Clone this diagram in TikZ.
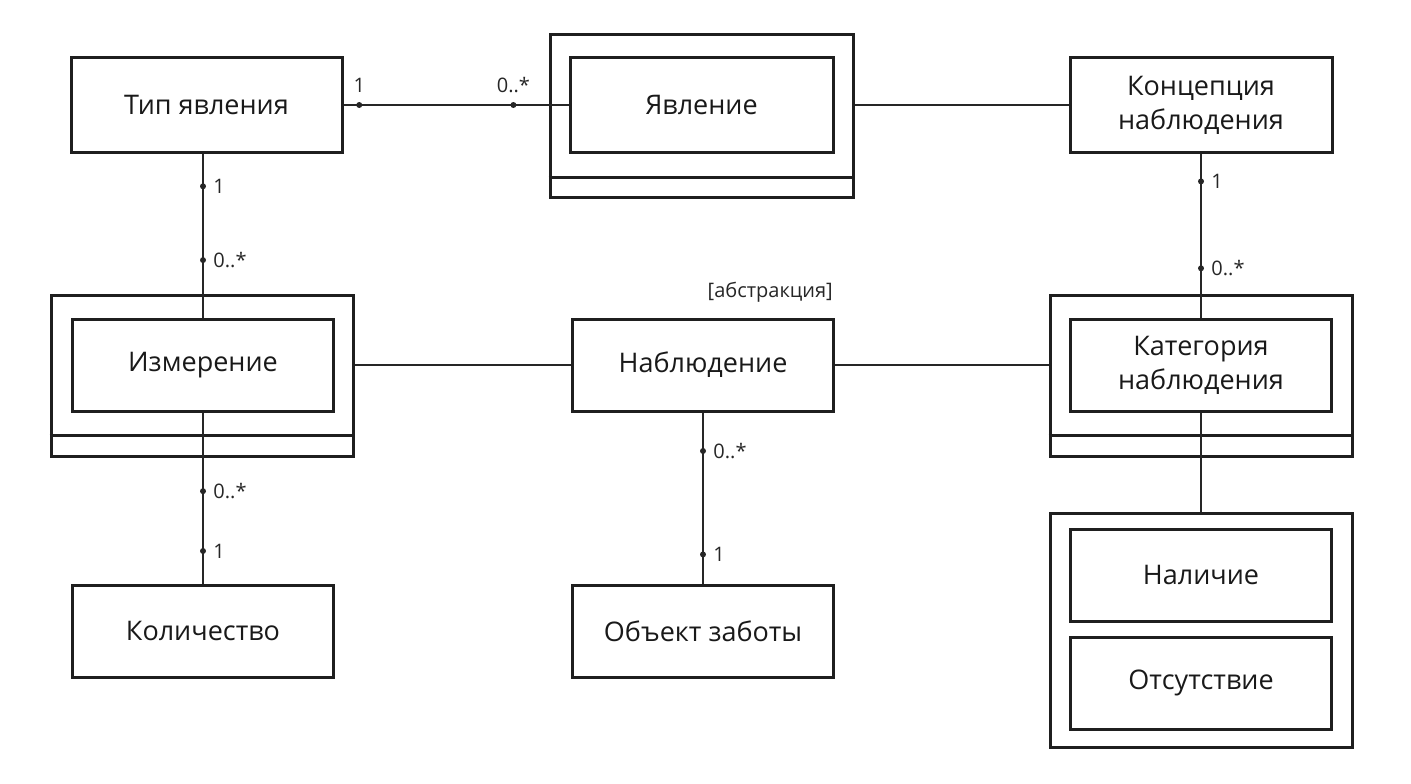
\documentclass[tikz,border=0pt]{standalone}
\usepackage{fontspec}
\setmainfont{Open Sans}
\begin{document}
\begin{tikzpicture}[x=1pt,y=-1pt,
  ink/.style={draw=black!88},
  box/.style={ink, line width=3pt, minimum width=261pt, minimum height=92pt, inner sep=0pt, align=center, font=\fontsize{27}{34}\selectfont, text=black!90},
  outerbox/.style={ink, line width=3pt, inner sep=0pt},
  conn/.style={draw=black!85, line width=2.5pt},
  mult/.style={inner sep=0pt, font=\fontsize{20}{22}\selectfont, text=black!85},
  dotm/.style={circle, fill=black!85, inner sep=0pt, minimum size=6pt}]
\useasboundingbox (0,0) rectangle (1411,784);
% outer frames (weak entities)
\node[outerbox, minimum width=303pt, minimum height=162pt] (yavO) at (701.5,116) {};
\node[outerbox, minimum width=302pt, minimum height=161pt] (izmO) at (202,375.5) {};
\node[outerbox, minimum width=302pt, minimum height=161pt] (katO) at (1201,375.5) {};
\node[outerbox, minimum width=302pt, minimum height=234pt, anchor=north] (nalO) at (1201,512) {};
\draw[ink, line width=3pt] (yavO.west |- 0,177) -- (yavO.east |- 0,177);
\draw[ink, line width=3pt] (izmO.west |- 0,435) -- (izmO.east |- 0,435);
\draw[ink, line width=3pt] (katO.west |- 0,435) -- (katO.east |- 0,435);
% boxes
\node[box, minimum width=271pt, minimum height=94pt] (tip) at (206.5,105) {Тип явления};
\node[box, minimum width=263pt, minimum height=94pt] (yav) at (701.5,105) {Явление};
\node[box, minimum width=262pt, minimum height=94pt] (konc) at (1201,105) {Концепция\\наблюдения};
\node[box] (izm) at (203,365) {Измерение};
\node[box] (nab) at (703,365) {Наблюдение};
\node[box] (kat) at (1201,365) {Категория\\наблюдения};
\node[box] (kol) at (203,631) {Количество};
\node[box] (obj) at (703,631) {Объект заботы};
\node[box] (nal) at (1201,575) {Наличие};
\node[box] (ots) at (1201,683) {Отсутствие};
\node[mult, anchor=south east] (abs) at (833,303) {[абстракция]};
% connectors
\draw[conn] (tip.east) -- (yav.west)
  node[dotm, pos=0.07] (d1) {} node[dotm, pos=0.755] (d2) {};
\node[mult, anchor=south] at ([yshift=8pt]d1.north) {1};
\node[mult, anchor=south] at ([yshift=8pt]d2.north) {0..*};
\draw[conn] (yavO.east |- yav.east) -- (konc.west);
\draw[conn] (tip.south -| izm.north) -- (izm.north)
  node[dotm, pos=0.2] (d3) {} node[dotm, pos=0.65] (d4) {};
\node[mult, anchor=west] at ([xshift=6pt]d3.east) {1};
\node[mult, anchor=west] at ([xshift=6pt]d4.east) {0..*};
\draw[conn] (izmO.east |- izm.east) -- (nab.west);
\draw[conn] (nab.east) -- (katO.west |- kat.west);
\draw[conn] (konc.south) -- (kat.north)
  node[dotm, pos=0.17] (d5) {} node[dotm, pos=0.7] (d6) {};
\node[mult, anchor=west] at ([xshift=6pt]d5.east) {1};
\node[mult, anchor=west] at ([xshift=6pt]d6.east) {0..*};
\draw[conn] (kat.south) -- (nalO.north);
\draw[conn] (izm.south) -- (kol.north)
  node[dotm, pos=0.46] (d7) {} node[dotm, pos=0.81] (d8) {};
\node[mult, anchor=west] at ([xshift=6pt]d7.east) {0..*};
\node[mult, anchor=west] at ([xshift=6pt]d8.east) {1};
\draw[conn] (nab.south) -- (obj.north)
  node[dotm, pos=0.225] (d9) {} node[dotm, pos=0.83] (d10) {};
\node[mult, anchor=west] at ([xshift=6pt]d9.east) {0..*};
\node[mult, anchor=west] at ([xshift=6pt]d10.east) {1};
\end{tikzpicture}
\end{document}
